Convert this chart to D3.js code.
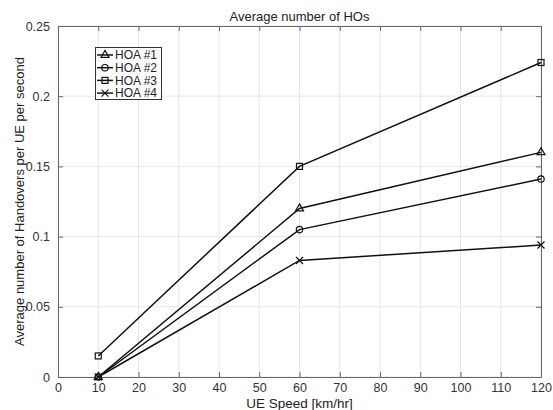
<!DOCTYPE html>
<html><head><meta charset="utf-8">
<script src="https://cdn.jsdelivr.net/npm/d3@7"></script>
<style>body{margin:0;background:#fff;} text{font-family:"Liberation Sans",Arial,sans-serif;}</style>
</head><body>
<script>
const speeds = [10, 60, 120];
const seriesNames = ["HOA #1", "HOA #2", "HOA #3", "HOA #4"];
const hoa1 = [0, 0.120, 0.160];
const hoa2 = [0, 0.105, 0.141];
const hoa3 = [0.015, 0.150, 0.224];
const hoa4 = [0, 0.083, 0.094];
const markers = ["triangle", "circle", "square", "cross"];
const xTicks = [0,10,20,30,40,50,60,70,80,90,100,110,120];
const yTicks = [0,0.05,0.1,0.15,0.2,0.25];
const yTickLabels = ["0","0.05","0.1","0.15","0.2","0.25"];
const titleText = "Average number of HOs";
const xLabel = "UE Speed [km/hr]";
const yLabel = "Average number of Handovers per UE per second";

const W = 553, H = 410;
const m = {l:58, r:12, t:26, b:33};
const svg = d3.select("body").append("svg").attr("width", W).attr("height", H);
const x = d3.scaleLinear().domain([0,120]).range([m.l, W-m.r]);
const y = d3.scaleLinear().domain([0,0.25]).range([H-m.b, m.t]);

// grid
svg.append("g").selectAll("line").data(xTicks).join("line")
  .attr("x1", d=>x(d)).attr("x2", d=>x(d)).attr("y1", y(0)).attr("y2", y(0.25))
  .attr("stroke", "#e6e6e6").attr("stroke-width", 1);
svg.append("g").selectAll("line").data(yTicks).join("line")
  .attr("y1", d=>y(d)).attr("y2", d=>y(d)).attr("x1", x(0)).attr("x2", x(120))
  .attr("stroke", "#e6e6e6").attr("stroke-width", 1);

// axes
const xa = svg.append("g").attr("transform", `translate(0,${y(0)})`)
  .call(d3.axisBottom(x).tickValues(xTicks).tickSizeInner(-5).tickSizeOuter(0).tickPadding(6));
const xt = svg.append("g").attr("transform", `translate(0,${y(0.25)})`)
  .call(d3.axisTop(x).tickValues(xTicks).tickSizeInner(-5).tickSizeOuter(0).tickFormat(""));
const ya = svg.append("g").attr("transform", `translate(${x(0)},0)`)
  .call(d3.axisLeft(y).tickValues(yTicks).tickFormat((d,i)=>yTickLabels[i]).tickSizeInner(-5).tickSizeOuter(0).tickPadding(8));
const yr = svg.append("g").attr("transform", `translate(${x(120)},0)`)
  .call(d3.axisRight(y).tickValues(yTicks).tickSizeInner(-5).tickSizeOuter(0).tickFormat(""));
[xa,xt,ya,yr].forEach(g=>{
  g.selectAll("path").attr("stroke","#666");
  g.selectAll("line").attr("stroke","#666");
  g.selectAll("text").attr("font-size", 12.5).attr("fill","#333").style("font-family","'Liberation Sans',Arial,sans-serif");
});

// markers
function drawMarker(g, type, cx, cy) {
  if (type === "triangle") {
    g.append("path").attr("d", d3.symbol(d3.symbolTriangle, 28)()).attr("transform",`translate(${cx},${cy})`)
      .attr("fill","none").attr("stroke","#111").attr("stroke-width",1.2);
  } else if (type === "circle") {
    g.append("circle").attr("cx",cx).attr("cy",cy).attr("r",3.2).attr("fill","none").attr("stroke","#111").attr("stroke-width",1.2);
  } else if (type === "square") {
    g.append("rect").attr("x",cx-3).attr("y",cy-3).attr("width",6).attr("height",6).attr("fill","none").attr("stroke","#111").attr("stroke-width",1.2);
  } else {
    g.append("path").attr("d",`M${cx-3.5},${cy-3.5}L${cx+3.5},${cy+3.5}M${cx-3.5},${cy+3.5}L${cx+3.5},${cy-3.5}`)
      .attr("stroke","#111").attr("stroke-width",1.2);
  }
}

const allSeries = [hoa1, hoa2, hoa3, hoa4];
const line = d3.line().x((d,i)=>x(speeds[i])).y(d=>y(d));
allSeries.forEach((vals, k) => {
  const g = svg.append("g");
  g.append("path").attr("d", line(vals)).attr("fill","none").attr("stroke","#111").attr("stroke-width",1.5);
  vals.forEach((v,i)=>drawMarker(g, markers[k], x(speeds[i]), y(v)));
});

// legend
const lg = svg.append("g");
lg.append("rect").attr("x",95.5).attr("y",47.5).attr("width",66).attr("height",52)
  .attr("fill","#fff").attr("stroke","#333").attr("stroke-width",1);
seriesNames.forEach((n,i)=>{
  const yy = 55 + i*12.7;
  lg.append("line").attr("x1",97).attr("x2",113).attr("y1",yy).attr("y2",yy).attr("stroke","#111").attr("stroke-width",1.5);
  drawMarker(lg, markers[i], 105, yy);
  lg.append("text").attr("x",115).attr("y",yy+4.3).attr("font-size",12).attr("fill","#222").text(n);
});

// titles
svg.append("text").attr("x", (x(0)+x(120))/2).attr("y", 21).attr("text-anchor","middle")
  .attr("font-size",13).attr("fill","#222").text(titleText);
svg.append("text").attr("x", (x(0)+x(120))/2).attr("y", 408).attr("text-anchor","middle")
  .attr("font-size",13.5).attr("fill","#222").text(xLabel);
svg.append("text").attr("transform",`translate(24,${(y(0)+y(0.25))/2}) rotate(-90)`).attr("text-anchor","middle")
  .attr("font-size",13).attr("fill","#222").text(yLabel);
</script>
</body></html>
